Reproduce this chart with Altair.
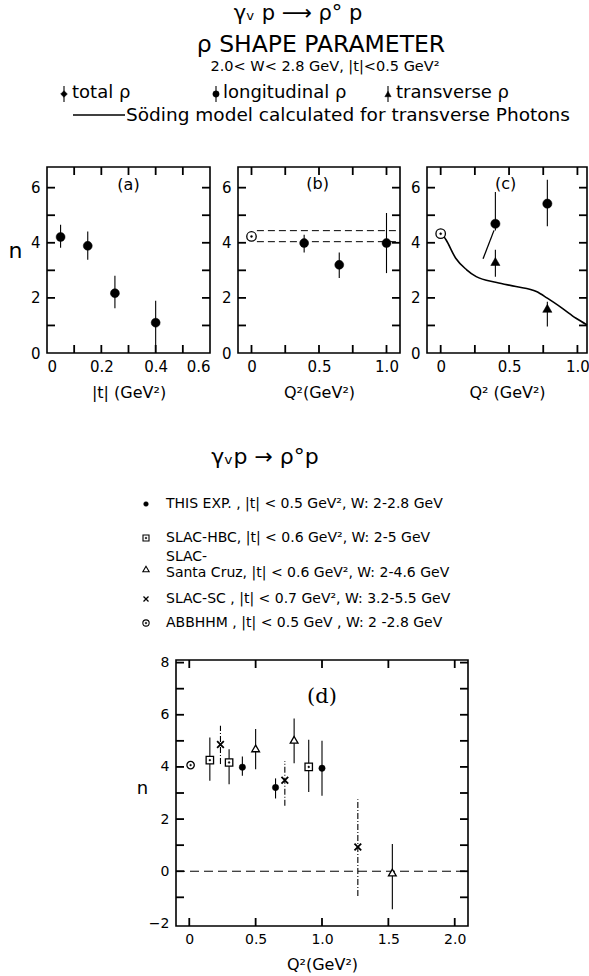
import altair as alt
import pandas as pd

W, H = 589, 976
FONT = "DejaVu Sans"

# ---------------- data ----------------
# panel (a): total rho vs |t|
a_t = [0.05, 0.15, 0.25, 0.40]
a_n = [4.21, 3.89, 2.17, 1.10]
a_lo = [3.82, 3.38, 1.62, 0.00]
a_hi = [4.65, 4.41, 2.80, 1.90]

# panel (b): total rho vs Q2
b_q2 = [0.39, 0.65, 1.00]
b_n = [3.99, 3.20, 3.99]
b_lo = [3.65, 2.72, 2.90]
b_hi = [4.29, 3.65, 5.08]
b_ref_q2 = [0.0]
b_ref_n = [4.23]
b_band = [4.44, 4.04]

# panel (c): longitudinal / transverse rho vs Q2
c_ref_q2 = [0.0]
c_ref_n = [4.33]
c_long_q2 = [0.40, 0.78]
c_long_n = [4.69, 5.42]
c_long_lo = [4.45, 4.60]
c_long_hi = [5.84, 6.29]
c_tr_q2 = [0.40, 0.78]
c_tr_n = [3.32, 1.62]
c_tr_lo = [2.77, 0.96]
c_tr_hi = [3.75, 1.86]
soding_q2 = [0.02, 0.04, 0.11, 0.19, 0.26, 0.41, 0.55, 0.70, 0.78, 0.89, 0.99, 1.07]
soding_n = [4.25, 4.10, 3.44, 3.02, 2.77, 2.56, 2.41, 2.23, 1.99, 1.62, 1.26, 1.02]
long_model_q2 = [0.31, 0.39]
long_model_n = [3.42, 4.45]

# panel (d): comparison of experiments
d_this_q2 = [0.40, 0.65, 1.00]
d_this_n = [3.99, 3.21, 3.95]
d_this_lo = [3.66, 2.79, 2.89]
d_this_hi = [4.40, 3.56, 5.00]
d_hbc_q2 = [0.155, 0.30, 0.90]
d_hbc_n = [4.26, 4.17, 4.00]
d_hbc_lo = [3.47, 3.34, 3.04]
d_hbc_hi = [5.13, 4.68, 5.04]
d_sc_q2 = [0.50, 0.79, 1.53]
d_sc_n = [4.71, 5.04, -0.05]
d_sc_lo = [3.91, 4.14, -1.46]
d_sc_hi = [5.45, 5.86, 1.04]
d_slsc_q2 = [0.235, 0.72, 1.27]
d_slsc_n = [4.86, 3.49, 0.93]
d_slsc_lo = [4.11, 2.51, -0.95]
d_slsc_hi = [5.58, 4.23, 2.76]
d_abb_q2 = [0.01]
d_abb_n = [4.07]

# tick values
a_xlabels = [0, 0.2, 0.4, 0.6]
a_xticks = [0.1, 0.2, 0.3, 0.4, 0.5]
bc_xlabels = [0, 0.5, 1.0]
bc_xticks = [0, 0.25, 0.5, 0.75, 1.0]
top_ylabels = [0, 2, 4, 6]
top_yticks = [1, 2, 3, 4, 5, 6]
d_xlabels = [0, 0.5, 1.0, 1.5, 2.0]
d_xticks = [0, 0.5, 1.0, 1.5, 2.0]
d_ylabels = [-2, 0, 2, 4, 6, 8]
d_yticks = [-1, 0, 1, 2, 3, 4, 5, 6, 7, 8]

# ---------------- panel geometry ----------------
PA = dict(xd=[0.0, 0.6], xr=[47, 210], yd=[0.0, 6.75], yr=[353, 167])
PB = dict(xd=[-0.1, 1.1], xr=[238, 400], yd=[0.0, 6.75], yr=[353, 167])
PC = dict(xd=[-0.1, 1.07], xr=[427, 587], yd=[0.0, 6.75], yr=[353, 167])
PD = dict(xd=[-0.1, 2.1], xr=[176, 468], yd=[-2.1, 8.1], yr=[926, 660])
TICK_SIZE = 64  # symbol size -> tick length sqrt(64) = 8 px

one = pd.DataFrame({"k": [0]})
layers = []
tick_layers = []


def sx(p):
    return alt.Scale(domain=p["xd"], range=p["xr"], nice=False, zero=False)


def sy(p):
    return alt.Scale(domain=p["yd"], range=p["yr"], nice=False, zero=False)


def X(p, f):
    return alt.X(f, type="quantitative", scale=sx(p), axis=None)


def Y(p, f):
    return alt.Y(f, type="quantitative", scale=sy(p), axis=None)


def XD(p, v):
    return alt.XDatum(v, type="quantitative", scale=sx(p), axis=None)


def YD(p, v):
    return alt.YDatum(v, type="quantitative", scale=sy(p), axis=None)


def frame(p, xvals, yvals, xfmt, xtitle, ytitle, ytitle_xy, lsize=15, tsize=22):
    xaxis = alt.Axis(orient="bottom", offset=p["yr"][0] - H, values=xvals, labelExpr=xfmt,
                     ticks=False, tickSize=0, domain=False, grid=False, labelPadding=6,
                     labelFont=FONT, labelFontSize=lsize, labelColor="black",
                     title=xtitle, titleFont=FONT, titleFontSize=16, titleFontWeight="normal",
                     titleColor="black", titlePadding=10)
    yargs = dict(orient="left", offset=-p["xr"][0], values=yvals, format="d",
                 ticks=False, tickSize=0, domain=False, grid=False, labelPadding=7,
                 labelFont=FONT, labelFontSize=lsize, labelColor="black")
    if ytitle:
        yargs.update(title=ytitle, titleAngle=0, titleX=ytitle_xy[0] - p["xr"][0],
                     titleY=ytitle_xy[1], titleAlign="center", titleBaseline="middle",
                     titleFont=FONT, titleFontSize=tsize, titleFontWeight="normal", titleColor="black")
    else:
        yargs.update(title=None)
    yaxis = alt.Axis(**yargs)
    return alt.Chart(one).mark_rect(fill="transparent", fillOpacity=0, stroke="black",
                                    strokeWidth=1.6).encode(
        x=alt.XDatum(p["xd"][0], type="quantitative", scale=sx(p), axis=xaxis),
        x2=alt.X2Datum(p["xd"][1]),
        y=alt.YDatum(p["yd"][0], type="quantitative", scale=sy(p), axis=yaxis),
        y2=alt.Y2Datum(p["yd"][1]),
    )


def inward_ticks(p, xt, yt):
    # short strokes drawn from each frame edge towards the inside of the panel
    x0, x1 = p["xd"]
    y0, y1 = p["yd"]
    dy = pd.DataFrame({"tv": yt})
    dx = pd.DataFrame({"tv": xt})
    kw = dict(filled=False, stroke="black", strokeWidth=1.8, size=TICK_SIZE, opacity=1)
    return [
        alt.Chart(dy).mark_point(shape="M0,0L2,0", **kw).encode(x=XD(p, x0), y=Y(p, "tv")),
        alt.Chart(dy).mark_point(shape="M0,0L-2,0", **kw).encode(x=XD(p, x1), y=Y(p, "tv")),
        alt.Chart(dx).mark_point(shape="M0,0L0,-2", **kw).encode(x=X(p, "tv"), y=YD(p, y0)),
        alt.Chart(dx).mark_point(shape="M0,0L0,2", **kw).encode(x=X(p, "tv"), y=YD(p, y1)),
    ]


def errbars(p, xs, lo, hi, width=1.1, dash=None):
    df = pd.DataFrame({"x": xs, "lo": lo, "hi": hi})
    kw = dict(color="black", strokeWidth=width)
    if dash:
        kw["strokeDash"] = dash
    return alt.Chart(df).mark_rule(**kw).encode(x=X(p, "x"), y=Y(p, "lo"), y2="hi")


def points(p, xs, ys, shape, size, filled=True, sw=1.3):
    df = pd.DataFrame({"x": xs, "y": ys})
    if filled:
        m = alt.Chart(df).mark_point(shape=shape, size=size, filled=True, fill="black",
                                     stroke="black", strokeWidth=0.5, opacity=1)
    else:
        m = alt.Chart(df).mark_point(shape=shape, size=size, filled=False, stroke="black",
                                     strokeWidth=sw, fill="white", fillOpacity=1, opacity=1)
    return m.encode(x=X(p, "x"), y=Y(p, "y"))


def panel_text(p, txt, xv, yv, size=16, font=FONT):
    return alt.Chart(one).mark_text(text=txt, fontSize=size, font=font, color="black",
                                    align="center", baseline="middle").encode(
        x=XD(p, xv), y=YD(p, yv))


lab1 = "datum.value == 0 ? '0' : format(datum.value, '.1f')"

# ---------------- panel (a) ----------------
layers.append(frame(PA, a_xlabels, top_ylabels, lab1, "|t| (GeV²)", "n", (15, 250)))
tick_layers.extend(inward_ticks(PA, a_xticks, top_yticks))
layers.append(errbars(PA, a_t, a_lo, a_hi))
layers.append(points(PA, a_t, a_n, "circle", 80))
layers.append(panel_text(PA, "(a)", 0.30, 6.1))

# ---------------- panel (b) ----------------
layers.append(frame(PB, bc_xlabels, top_ylabels, lab1, "Q²(GeV²)", None, None))
tick_layers.extend(inward_ticks(PB, bc_xticks, top_yticks))
layers.append(alt.Chart(pd.DataFrame({"n": b_band})).mark_rule(
    color="black", strokeWidth=1, strokeDash=[7, 4]).encode(
    y=Y(PB, "n"), x=XD(PB, 0.04), x2=alt.X2Datum(1.1)))
layers.append(errbars(PB, b_q2, b_lo, b_hi))
layers.append(points(PB, b_q2, b_n, "circle", 80))
layers.append(points(PB, b_ref_q2, b_ref_n, "circle", 90, filled=False))
layers.append(points(PB, b_ref_q2, b_ref_n, "circle", 4))
layers.append(panel_text(PB, "(b)", 0.49, 6.15))

# ---------------- panel (c) ----------------
layers.append(frame(PC, bc_xlabels, top_ylabels, lab1, "Q² (GeV²)", None, None))
tick_layers.extend(inward_ticks(PC, bc_xticks, top_yticks))
layers.append(alt.Chart(pd.DataFrame({"q": soding_q2, "n": soding_n})).mark_line(
    color="black", strokeWidth=1.6, interpolate="monotone").encode(
    x=X(PC, "q"), y=Y(PC, "n"), order="q:Q"))
layers.append(alt.Chart(pd.DataFrame({"q": long_model_q2, "n": long_model_n})).mark_line(
    color="black", strokeWidth=1.3).encode(x=X(PC, "q"), y=Y(PC, "n")))
layers.append(errbars(PC, c_long_q2, c_long_lo, c_long_hi))
layers.append(errbars(PC, c_tr_q2, c_tr_lo, c_tr_hi))
layers.append(points(PC, c_long_q2, c_long_n, "circle", 85))
layers.append(points(PC, c_tr_q2, c_tr_n, "triangle-up", 85))
layers.append(points(PC, c_ref_q2, c_ref_n, "circle", 90, filled=False))
layers.append(points(PC, c_ref_q2, c_ref_n, "circle", 4))
layers.append(panel_text(PC, "(c)", 0.475, 6.15))

# ---------------- panel (d) ----------------
layers.append(frame(PD, d_xlabels, d_ylabels, lab1, "Q²(GeV²)", "n", (142, 788), lsize=14, tsize=18))
tick_layers.extend(inward_ticks(PD, d_xticks, d_yticks))
layers.append(alt.Chart(one).mark_rule(color="black", strokeWidth=1, strokeDash=[9, 5]).encode(
    y=YD(PD, 0), x=XD(PD, PD["xd"][0]), x2=alt.X2Datum(PD["xd"][1])))
layers.append(errbars(PD, d_this_q2, d_this_lo, d_this_hi))
layers.append(errbars(PD, d_hbc_q2, d_hbc_lo, d_hbc_hi))
layers.append(errbars(PD, d_sc_q2, d_sc_lo, d_sc_hi))
layers.append(errbars(PD, d_slsc_q2, d_slsc_lo, d_slsc_hi, dash=[6, 2, 1, 2]))
layers.append(points(PD, d_this_q2, d_this_n, "circle", 40))
layers.append(points(PD, d_hbc_q2, d_hbc_n, "square", 55, filled=False))
layers.append(points(PD, d_hbc_q2, d_hbc_n, "circle", 3))
layers.append(points(PD, d_sc_q2, d_sc_n, "triangle-up", 60, filled=False))
layers.append(points(PD, d_slsc_q2, d_slsc_n, "M-1,-1L1,1M-1,1L1,-1", 45, filled=False, sw=1.8))
layers.append(points(PD, d_abb_q2, d_abb_n, "circle", 55, filled=False))
layers.append(points(PD, d_abb_q2, d_abb_n, "circle", 3))
layers.append(panel_text(PD, "(d)", 1.0, 6.7, size=21, font="DejaVu Serif"))


# ---------------- header / legends (annotations) ----------------
def txt(text, x, y, size, align="left", font=FONT):
    return alt.Chart(one).mark_text(text=text, align=align, baseline="middle", fontSize=size,
                                    font=font, color="black").encode(x=alt.value(x), y=alt.value(y))


def glyph(x, y, shape, size, filled=True, sw=1.3):
    if filled:
        m = alt.Chart(one).mark_point(shape=shape, size=size, filled=True, fill="black",
                                      stroke="black", strokeWidth=0.5, opacity=1)
    else:
        m = alt.Chart(one).mark_point(shape=shape, size=size, filled=False, stroke="black",
                                      strokeWidth=sw, opacity=1)
    return m.encode(x=alt.value(x), y=alt.value(y))


def vbar(x, y1, y2):
    return alt.Chart(one).mark_rule(color="black", strokeWidth=1.1).encode(
        x=alt.value(x), y=alt.value(y1), y2=alt.value(y2))


layers.append(txt("γᵥ p ⟶ ρ° p", 298, 14, 21, align="center"))
layers.append(txt("ρ SHAPE  PARAMETER", 321, 45, 23.5, align="center"))
layers.append(txt("2.0< W< 2.8 GeV, |t|<0.5 GeV²", 325, 67, 14.5, align="center"))

layers.append(vbar(64, 86, 102))
layers.append(glyph(64, 94, "diamond", 45))
layers.append(txt("total ρ", 72, 93, 18))
layers.append(vbar(216, 86, 102))
layers.append(glyph(216, 94, "circle", 40))
layers.append(txt("longitudinal  ρ", 223, 93, 18))
layers.append(vbar(388, 86, 102))
layers.append(glyph(388, 94, "triangle-up", 40))
layers.append(txt("transverse ρ", 396, 93, 18))
layers.append(alt.Chart(one).mark_rule(color="black", strokeWidth=1.3).encode(
    x=alt.value(73), x2=alt.value(125), y=alt.value(115)))
layers.append(txt("Söding  model calculated for transverse Photons", 126, 115, 18.5))

layers.append(txt("γᵥp → ρ°p", 265, 457, 22, align="center"))

leg_x, txt_x = 146, 166
LS = 14
layers.append(glyph(leg_x, 504, "circle", 22))
layers.append(txt("THIS EXP. , |t| < 0.5 GeV², W: 2-2.8 GeV", txt_x, 504, LS))
layers.append(glyph(leg_x, 538, "square", 36, filled=False, sw=1.1))
layers.append(glyph(leg_x, 538, "circle", 3))
layers.append(txt("SLAC-HBC, |t| < 0.6 GeV², W: 2-5  GeV", txt_x, 538, LS))
layers.append(glyph(leg_x, 569, "triangle-up", 40, filled=False, sw=1.1))
layers.append(txt("SLAC-", txt_x, 557, LS))
layers.append(txt("Santa Cruz, |t| < 0.6 GeV², W: 2-4.6 GeV", txt_x, 573, LS))
layers.append(glyph(leg_x, 599, "M-1,-1L1,1M-1,1L1,-1", 25, filled=False, sw=1.3))
layers.append(txt("SLAC-SC  , |t| < 0.7 GeV², W: 3.2-5.5 GeV", txt_x, 599, LS))
layers.append(glyph(leg_x, 623, "circle", 40, filled=False, sw=1.1))
layers.append(glyph(leg_x, 623, "circle", 3))
layers.append(txt("ABBHHM  , |t| < 0.5 GeV , W: 2 -2.8 GeV", txt_x, 623, LS))

chart = alt.layer(*(layers + tick_layers)).resolve_scale(x="independent", y="independent").properties(
    width=W, height=H, autosize="none", padding=0, background="white"
).configure_view(stroke=None)

chart.save("out.html", embed_options={"renderer": "svg", "actions": False})
